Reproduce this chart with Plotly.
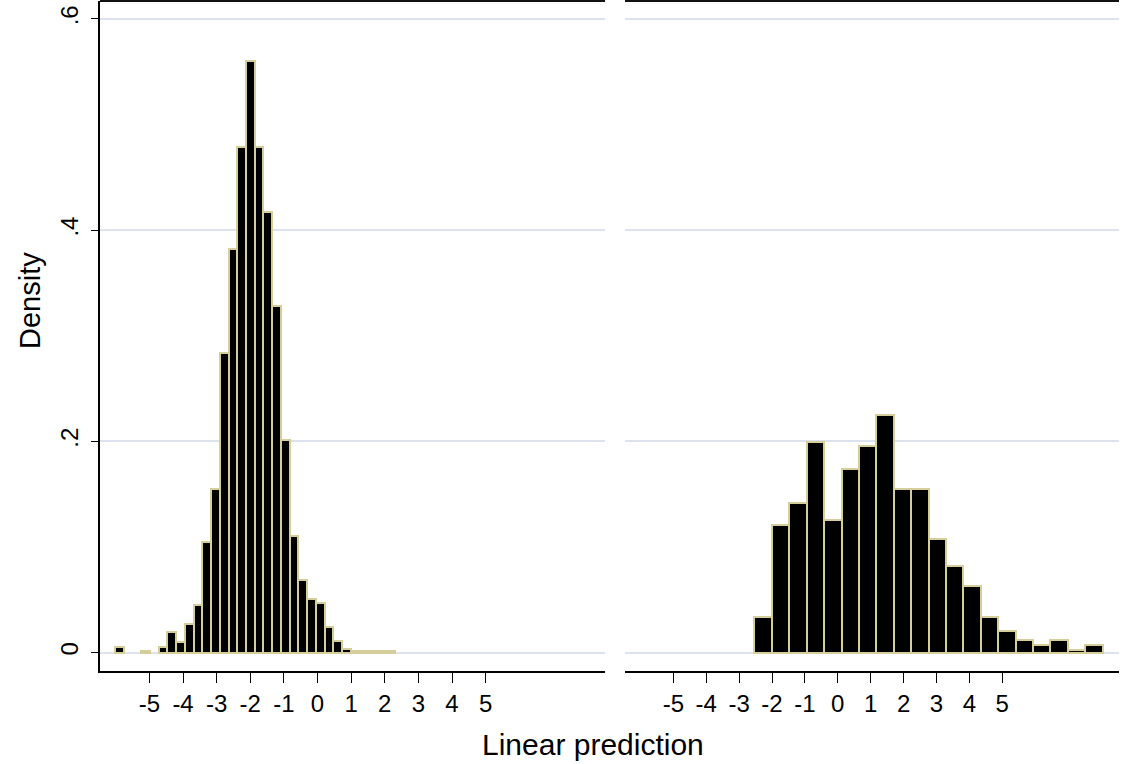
import plotly.graph_objects as go

# ---------------- data ----------------
# Left panel histogram (group 0): bin start, bin width, densities
left_bin_start = -6.024
left_bin_width = 0.2598
left_density = [0.0055, None, None, 0.0015, None, 0.005, 0.0194, 0.010,
                0.027, 0.045, 0.105, 0.155, 0.284, 0.382, 0.479, 0.560,
                0.479, 0.417, 0.328, 0.201, 0.110, 0.069, 0.051, 0.047,
                0.0245, 0.011, 0.003, 0.0012, 0.0012, 0.0012, 0.0012, 0.0012]

# Right panel histogram (group 1)
right_bin_start = -2.535
right_bin_width = 0.5295
right_density = [0.0333, 0.1206, 0.142, 0.1994, 0.1254, 0.1737, 0.1952, 0.2254,
                 0.1552, 0.1552, 0.1076, 0.0816, 0.0632, 0.0333, 0.020, 0.0114,
                 0.0067, 0.0118, 0.0023, 0.0073]

x_ticks = [-5, -4, -3, -2, -1, 0, 1, 2, 3, 4, 5]
x_ticklabels = ["-5", "-4", "-3", "-2", "-1", "0", "1", "2", "3", "4", "5"]
y_ticks = [0, 0.2, 0.4, 0.6]
y_ticklabels = ["0", ".2", ".4", ".6"]
x_title = "Linear prediction"
y_title = "Density"

# ---------------- layout constants ----------------
W, H = 1134, 764
FONT = "Liberation Sans, Arial, sans-serif"
BAR_FILL = "#000000"
BAR_EDGE = "#d5cd9a"
GRID = "#dde2ef"
TICK_SIZE = 24
TITLE_SIZE = 30


def centers(start, width, n):
    return [start + width * (i + 0.5) for i in range(n)]


fig = go.Figure()
fig.add_trace(go.Bar(
    x=centers(left_bin_start, left_bin_width, len(left_density)),
    y=left_density, width=left_bin_width,
    marker=dict(color=BAR_FILL, line=dict(color=BAR_EDGE, width=2)),
    xaxis="x", yaxis="y", showlegend=False))
fig.add_trace(go.Bar(
    x=centers(right_bin_start, right_bin_width, len(right_density)),
    y=right_density, width=right_bin_width,
    marker=dict(color=BAR_FILL, line=dict(color=BAR_EDGE, width=2)),
    xaxis="x2", yaxis="y2", showlegend=False))

x_range = [-6.47, 8.55]
y_range = [-0.0175, 0.617]
left_dom = [100 / W, 605 / W]
right_dom = [625 / W, 1119 / W]
y_dom = [1 - 671 / H, 1 - 1 / H]

xaxis_common = dict(
    range=x_range, tickvals=x_ticks, ticktext=x_ticklabels,
    ticks="outside", ticklen=10, tickwidth=1.2, tickcolor="black",
    showline=True, linecolor="black", linewidth=1.5,
    showgrid=False, zeroline=False, automargin=False,
    tickfont=dict(family=FONT, size=TICK_SIZE, color="black"),
)

fig.update_layout(
    width=W, height=H,
    margin=dict(l=0, r=0, t=0, b=0),
    paper_bgcolor="white", plot_bgcolor="white",
    bargap=0,
    font=dict(family=FONT, color="black"),
    xaxis=dict(domain=left_dom, anchor="y", **xaxis_common),
    xaxis2=dict(domain=right_dom, anchor="y2", **xaxis_common),
    yaxis=dict(
        domain=y_dom, range=y_range, tickvals=y_ticks, ticktext=y_ticklabels,
        tickangle=-90, ticks="outside", ticklen=7, tickwidth=1.2, tickcolor="black",
        ticklabelstandoff=4,
        showline=True, linecolor="black", linewidth=1.5,
        showgrid=True, gridcolor=GRID, gridwidth=1.5, zeroline=False,
        automargin=False, tickfont=dict(family=FONT, size=TICK_SIZE, color="black"),
    ),
    yaxis2=dict(
        domain=y_dom, range=y_range, tickvals=y_ticks, anchor="x2",
        showticklabels=False, ticks="", showline=False,
        showgrid=True, gridcolor=GRID, gridwidth=1.5, zeroline=False,
        automargin=False,
    ),
    annotations=[
        dict(text=y_title, xref="paper", yref="paper", x=30 / W, y=1 - 301 / H,
             textangle=-90, showarrow=False, xanchor="center", yanchor="middle",
             font=dict(family=FONT, size=TITLE_SIZE - 1, color="black")),
        dict(text=x_title, xref="paper", yref="paper", x=593 / W, y=1 - 744 / H,
             showarrow=False, xanchor="center", yanchor="middle",
             font=dict(family=FONT, size=TITLE_SIZE, color="black")),
    ],
    shapes=[
        dict(type="line", xref="paper", yref="paper", x0=left_dom[0], x1=left_dom[1],
             y0=1 - 1 / H, y1=1 - 1 / H, line=dict(color="#111111", width=2)),
        dict(type="line", xref="paper", yref="paper", x0=right_dom[0], x1=right_dom[1],
             y0=1 - 1 / H, y1=1 - 1 / H, line=dict(color="#111111", width=2)),
    ],
)

fig.write_html("out.html",
               config={"displayModeBar": False},
               post_script="document.body.style.margin='0';"
                           "document.body.style.overflow='hidden';")
